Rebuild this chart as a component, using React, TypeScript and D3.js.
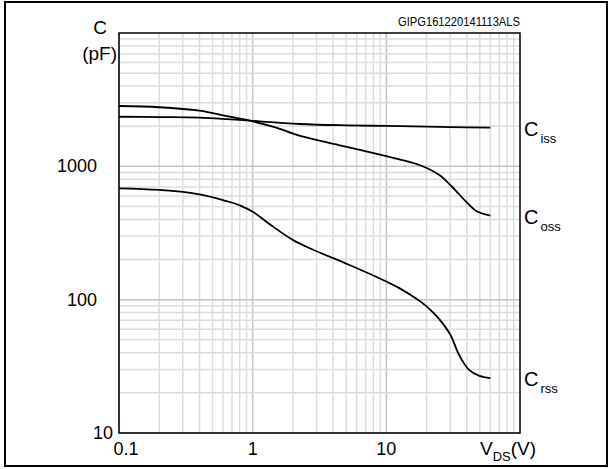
import * as d3 from "d3";

// Capacitance vs V_DS
const cissV = [0.1, 0.2, 0.4, 0.64, 0.95, 2.24, 5, 10, 20, 30, 60];
const cissC = [2355, 2340, 2318, 2260, 2199, 2078, 2030, 2010, 1985, 1965, 1950];

const cossV = [0.1, 0.2, 0.4, 0.64, 0.95, 1.5, 2.24, 4.4, 10, 12.5, 17.7, 24.9, 31, 39.5, 46.7, 60];
const cossC = [2835, 2775, 2614, 2383, 2199, 1950, 1698, 1445, 1195, 1129, 1023, 861, 703, 543, 465, 426];

const crssV = [0.1, 0.2, 0.4, 0.64, 0.8, 1.0, 1.34, 1.98, 2.67, 5.3, 10, 12.5, 16.7, 19.9, 24.9, 30, 35, 41.6, 49.7, 60];
const crssC = [684, 665, 617, 548, 510, 457, 368, 282, 243, 182, 137, 122, 102, 89.5, 71.5, 55, 38.6, 29.7, 26.8, 25.8];

const xTicks = [0.1, 1, 10];
const yTicks = [100, 1000];

const curves = [
  { name: "iss", v: cissV, c: cissC },
  { name: "oss", v: cossV, c: cossC },
  { name: "rss", v: crssV, c: crssC },
];

const W = 612;
const H = 469;
const left = 119;
const right = 520;
const top = 33;
const bottom = 433;

const font = "Arial, 'Liberation Sans', sans-serif";

export default function App() {
  const x = d3.scaleLog().domain([0.1, 100]).range([left, right]);
  const y = d3.scaleLog().domain([10, 10000]).range([bottom, top]);

  // minor grid: 1..9 times each decade
  const xGrid: number[] = [];
  for (const dec of [0.1, 1, 10]) for (let k = 1; k <= 9; k++) xGrid.push(dec * k);
  const yGrid: number[] = [];
  for (const dec of [10, 100, 1000]) for (let k = 1; k <= 9; k++) yGrid.push(dec * k);

  const line = d3
    .line<[number, number]>()
    .x((d) => x(d[0]))
    .y((d) => y(d[1]))
    .curve(d3.curveCatmullRom.alpha(0.5));

  const isMajor = (v: number) => Math.abs(Math.log10(v) - Math.round(Math.log10(v))) < 1e-6;

  return (
    <div style={{ position: "absolute", left: 0, top: 0 }}>
      <svg width={W} height={H} style={{ display: "block", background: "#fff" }}>
        <rect x={5} y={2} width={602} height={464} fill="#fff" stroke="#000" strokeWidth={2} />

        {xGrid.map((v, i) => (
          <line
            key={"xg" + i}
            x1={x(v)}
            x2={x(v)}
            y1={top}
            y2={bottom}
            stroke={isMajor(v) ? "#c4c4c4" : "#dcdcdc"}
            strokeWidth={1.5}
          />
        ))}
        {yGrid.map((v, i) => (
          <line
            key={"yg" + i}
            x1={left}
            x2={right}
            y1={y(v)}
            y2={y(v)}
            stroke={isMajor(v) ? "#c4c4c4" : "#dcdcdc"}
            strokeWidth={1.5}
          />
        ))}

        <rect
          x={left}
          y={top}
          width={right - left}
          height={bottom - top}
          fill="none"
          stroke="#000"
          strokeWidth={1.5}
        />

        {curves.map((cv) => (
          <path
            key={cv.name}
            d={line(cv.v.map((v, i) => [v, cv.c[i]] as [number, number])) || ""}
            fill="none"
            stroke="#000"
            strokeWidth={1.8}
          />
        ))}

        <g fontFamily={font} fill="#000">
          <text x={100} y={34} fontSize={19} textAnchor="middle">C</text>
          <text x={117} y={60} fontSize={19} textAnchor="end">(pF)</text>
          <text
            x={398}
            y={26}
            fontSize={13}
            textLength={122}
            lengthAdjust="spacingAndGlyphs"
          >
            GIPG161220141113ALS
          </text>

          {yTicks.map((t) => (
            <text key={"yt" + t} x={97} y={y(t) + 6} fontSize={18} textAnchor="end">
              {t}
            </text>
          ))}
          <text x={113} y={y(10) + 6} fontSize={18} textAnchor="end">10</text>

          {xTicks.map((t) => (
            <text
              key={"xt" + t}
              x={x(t) + (t === 0.1 ? 7 : 0)}
              y={455}
              fontSize={18}
              textAnchor="middle"
            >
              {t}
            </text>
          ))}

          <text x={480} y={455} fontSize={19}>
            V
            <tspan fontSize={13} dy={6}>DS</tspan>
            <tspan fontSize={19} dy={-6}>(V)</tspan>
          </text>

          {curves.map((cv) => {
            const last = cv.c[cv.c.length - 1];
            return (
              <text key={"lbl" + cv.name} x={524} y={y(last) + 8} fontSize={20}>
                C
                <tspan fontSize={13} dy={7} dx={2}>{cv.name}</tspan>
              </text>
            );
          })}
        </g>
      </svg>
    </div>
  );
}
